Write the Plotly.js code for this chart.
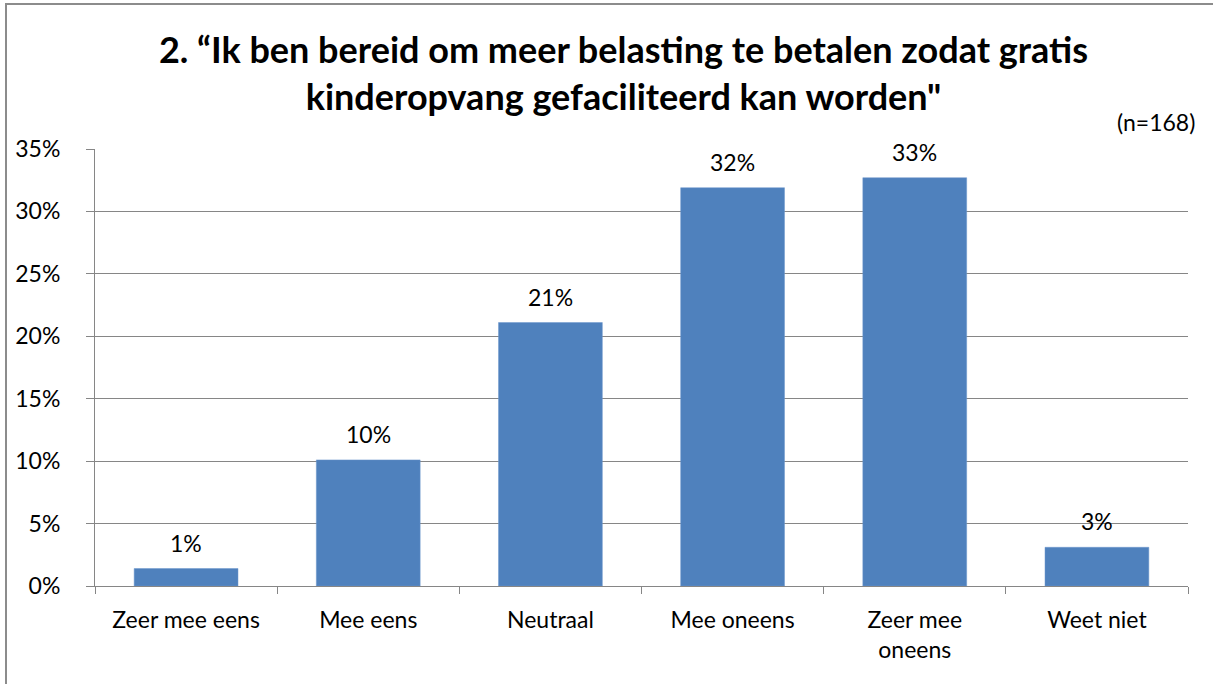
<!DOCTYPE html>
<html>
<head>
<meta charset="utf-8">
<script src="https://cdn.plot.ly/plotly-3.0.1.min.js"></script>
<style>
  html, body { margin: 0; padding: 0; background: #fff; }
  #wrap { position: relative; width: 1213px; height: 684px; overflow: hidden; }
  #chart { position: absolute; left: 0; top: 0; width: 1213px; height: 684px; }
  #frame { position: absolute; left: 5px; top: 3px; width: 1220px; height: 700px;
           border-top: 2px solid #8c8c8c; border-left: 2px solid #8c8c8c; pointer-events: none; }
</style>
</head>
<body>
<div id="wrap">
  <div id="chart"></div>
  <div id="frame"></div>
</div>
<script>
const categories = ["Zeer mee eens", "Mee eens", "Neutraal", "Mee oneens", "Zeer mee<br>oneens", "Weet niet"];
const values = [1.4, 10.1, 21.1, 31.9, 32.7, 3.1];
const labels = ["1%", "10%", "21%", "32%", "33%", "3%"];
const yTickVals = [0, 5, 10, 15, 20, 25, 30, 35];
const yTickText = ["0%", "5%", "10%", "15%", "20%", "25%", "30%", "35%"];
const titleText = "2. \u201cIk ben bereid om meer belasting te betalen zodat gratis<br>kinderopvang gefaciliteerd kan worden\"";
const noteText = "(n=168)";

const FONT = "Lato, 'Noto Sans', sans-serif";

const trace = {
  type: "bar",
  x: categories,
  y: values,
  marker: { color: "#4F81BD", line: { color: "#6d97cc", width: 0.5 } },
  hoverinfo: "skip"
};

const annotations = categories.map((c, i) => ({
  x: c, y: values[i], xref: "x", yref: "y",
  text: labels[i], showarrow: false,
  yanchor: "middle", yshift: 26,
  font: { family: FONT, size: 23, color: "#000" }
}));
annotations.push({
  xref: "paper", yref: "paper", x: 1.008, y: 1.0, xanchor: "right", yanchor: "bottom",
  yshift: 11, text: noteText, showarrow: false,
  font: { family: FONT, size: 23, color: "#000" }
});

const layout = {
  width: 1213, height: 684,
  margin: { l: 95, r: 25, t: 149, b: 98 },
  paper_bgcolor: "#ffffff", plot_bgcolor: "#ffffff",
  showlegend: false,
  bargap: 0.43,
  title: {
    text: titleText,
    x: 0.514, xref: "container", xanchor: "center",
    y: 1 - 63 / 684, yref: "container", yanchor: "top",
    font: { family: FONT, size: 36, color: "#000", weight: "bold" }
  },
  xaxis: {
    type: "category",
    showline: true, linecolor: "#868686", linewidth: 1,
    ticks: "outside", tickson: "boundaries", ticklen: 7, tickcolor: "#868686",
    showgrid: false,
    tickfont: { family: FONT, size: 23, color: "#000" },
    ticklabelstandoff: 13
  },
  yaxis: {
    range: [0, 35], tickvals: yTickVals, ticktext: yTickText,
    showline: true, linecolor: "#868686", linewidth: 1,
    ticks: "outside", ticklen: 8, tickcolor: "#868686",
    showgrid: true, gridcolor: "#868686", gridwidth: 1,
    zeroline: false,
    tickfont: { family: FONT, size: 23, color: "#000" },
    ticklabelstandoff: 21
  },
  annotations: annotations
};

Plotly.newPlot("chart", [trace], layout, { displayModeBar: false, staticPlot: true });
</script>
</body>
</html>
